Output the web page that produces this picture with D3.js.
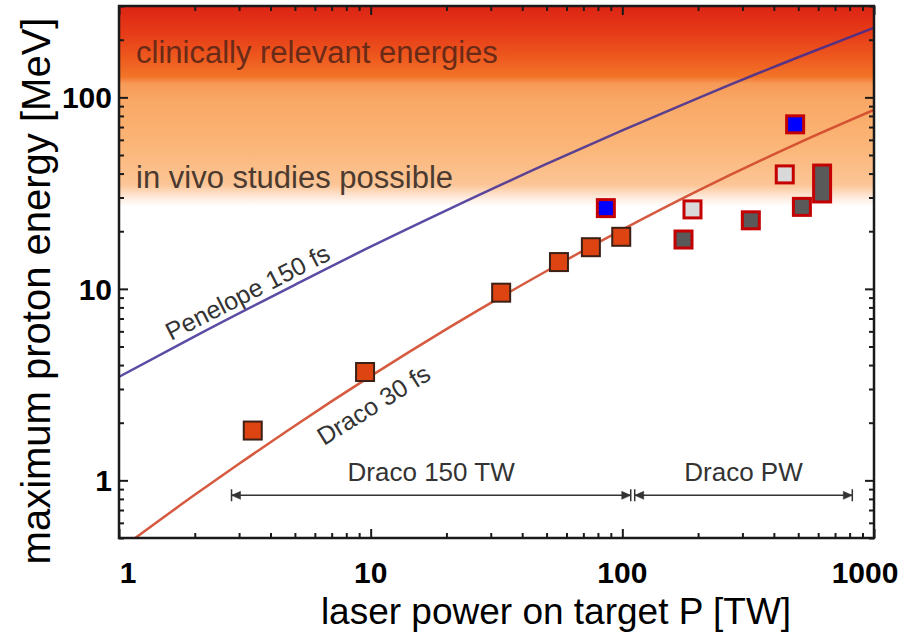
<!DOCTYPE html>
<html>
<head>
<meta charset="utf-8">
<script src="https://cdn.jsdelivr.net/npm/d3@7"></script>
<style>
body { margin: 0; background: #fff; }
text { font-family: "Liberation Sans", Arial, sans-serif; }
</style>
</head>
<body>
<div id="chart"></div>
<script>
// Data (P in TW, E in MeV)
const penelopeP = [1, 2, 5, 10, 20, 50, 100, 200, 500, 1000];
const penelopeE = [3.47, 5.65, 10.5, 16.6, 25.7, 44.9, 67.2, 99.2, 162, 231];
const dracoP = [1, 2, 3, 5, 10, 20, 50, 100, 200, 500, 1000];
const dracoE = [0.433, 0.84, 1.22, 1.93, 3.5, 6.16, 12.4, 20.4, 32.6, 57.7, 86];

const draco150P = [3.4, 9.5, 33, 56, 75, 99];
const draco150E = [1.82, 3.68, 9.55, 13.8, 16.5, 18.7];
const blueP = [86, 486];
const blueE = [26.4, 72.3];
const lightP = [190, 442];
const lightE = [26.0, 39.6];
const darkP = [175, 324, 517, 622];
const darkElo = [18.1, 22.8, 26.8, 31.5];
const darkEhi = [18.1, 22.8, 26.8, 40];

const rangeNames = ["Draco 150 TW", "Draco PW"];
const rangeFrom = [2.8, 112];
const rangeTo = [108, 820];
const rangeE = 0.835;

const bgE = [300, 220, 160, 128, 118, 95, 55, 35, 30, 27];
const bgColor = ["#dc2414", "#e63a18", "#ee5a1e", "#f27428", "#f79a58", "#f9a866", "#fbb678", "#fcc596", "#feeadc", "#ffffff"];

const xMajor = [1, 10, 100, 1000];
const yMajor = [1, 10, 100];

const svg = d3.select("#chart").append("svg")
    .attr("width", 915)
    .attr("height", 639);

const x = d3.scaleLog().domain([1, 1000]).range([119, 874]);
const y = d3.scaleLog().domain([0.5, 300]).range([538, 6]);

const defs = svg.append("defs");
const grad = defs.append("linearGradient")
    .attr("id", "bg")
    .attr("gradientUnits", "userSpaceOnUse")
    .attr("x1", 0).attr("x2", 0)
    .attr("y1", y(300)).attr("y2", y(0.5));
grad.selectAll("stop")
    .data(bgE)
    .join("stop")
    .attr("offset", d => (y(d) - y(300)) / (y(0.5) - y(300)))
    .attr("stop-color", (d, i) => bgColor[i]);

defs.append("clipPath").attr("id", "plot")
    .append("rect")
    .attr("x", 119).attr("y", 6)
    .attr("width", 755).attr("height", 532);

// background band
svg.append("rect")
    .attr("x", 119).attr("y", 6)
    .attr("width", 755).attr("height", 532)
    .attr("fill", "url(#bg)");

svg.append("text")
    .attr("x", 136).attr("y", 63)
    .attr("font-size", 31)
    .attr("fill", "#6a2a18")
    .text("clinically relevant energies");
svg.append("text")
    .attr("x", 136).attr("y", 188)
    .attr("font-size", 31)
    .attr("fill", "#4a3a30")
    .text("in vivo studies possible");

// scaling lines
const line = d3.line()
    .x(d => x(d[0]))
    .y(d => y(d[1]))
    .curve(d3.curveMonotoneX);

const lines = svg.append("g").attr("clip-path", "url(#plot)");
lines.append("path")
    .attr("d", line(penelopeP.map((p, i) => [p, penelopeE[i]])))
    .attr("fill", "none")
    .attr("stroke", "#3e2c94")
    .attr("stroke-opacity", 0.85)
    .attr("stroke-width", 2.5);
lines.append("path")
    .attr("d", line(dracoP.map((p, i) => [p, dracoE[i]])))
    .attr("fill", "none")
    .attr("stroke", "#d0482a")
    .attr("stroke-opacity", 0.9)
    .attr("stroke-width", 2.5);

svg.append("text")
    .attr("transform", "translate(171,341) rotate(-27)")
    .attr("font-size", 25)
    .attr("fill", "#333")
    .text("Penelope 150 fs");
svg.append("text")
    .attr("transform", "translate(324,446) rotate(-32)")
    .attr("font-size", 25)
    .attr("fill", "#333")
    .text("Draco 30 fs");

// ranges of the two lasers
const arrows = svg.append("g").attr("stroke", "#333").attr("fill", "#333");
rangeNames.forEach((name, i) => {
    const x1 = x(rangeFrom[i]), x2 = x(rangeTo[i]), ya = y(rangeE);
    arrows.append("line")
        .attr("x1", x1).attr("x2", x2)
        .attr("y1", ya).attr("y2", ya)
        .attr("stroke-width", 1.5);
    arrows.append("path")
        .attr("d", `M${x1},${ya}L${x1 + 9},${ya - 4}L${x1 + 9},${ya + 4}Z M${x2},${ya}L${x2 - 9},${ya - 4}L${x2 - 9},${ya + 4}Z`)
        .attr("stroke-width", 0.5);
    arrows.append("path")
        .attr("d", `M${x1},${ya - 6}V${ya + 6} M${x2},${ya - 6}V${ya + 6}`)
        .attr("stroke-width", 1.5);
    svg.append("text")
        .attr("x", (x1 + x2) / 2).attr("y", 481)
        .attr("text-anchor", "middle")
        .attr("font-size", 26)
        .attr("fill", "#333")
        .text(name);
});

// data points
svg.selectAll("rect.d150")
    .data(draco150P)
    .join("rect")
    .attr("class", "d150")
    .attr("x", d => x(d) - 9)
    .attr("y", (d, i) => y(draco150E[i]) - 9)
    .attr("width", 18).attr("height", 18)
    .attr("fill", "#dd4412")
    .attr("stroke", "#3d2015")
    .attr("stroke-width", 2);

function redSquares(cls, ps, elo, ehi, fill) {
    svg.selectAll("rect." + cls)
        .data(ps)
        .join("rect")
        .attr("class", cls)
        .attr("x", d => x(d) - 8.5)
        .attr("y", (d, i) => y(ehi[i]) - 8.5)
        .attr("width", 17)
        .attr("height", (d, i) => y(elo[i]) - y(ehi[i]) + 17)
        .attr("fill", fill)
        .attr("stroke", "#c40000")
        .attr("stroke-width", 3);
}
redSquares("blue", blueP, blueE, blueE, "#0000ff");
redSquares("light", lightP, lightE, lightE, "#d9d9d9");
redSquares("dark", darkP, darkElo, darkEhi, "#595959");

// axes with inward ticks
const xMinor = x.ticks().filter(v => !xMajor.includes(v));
const yMinor = y.ticks().filter(v => !yMajor.includes(v));

function ticks(axis, pos, values, size) {
    const g = svg.append("g")
        .attr("transform", pos)
        .call(axis.tickValues(values).tickSize(size).tickFormat(""));
    g.select(".domain").remove();
    g.selectAll("line").attr("stroke", "#1a1a1a").attr("stroke-width", 2);
}
ticks(d3.axisBottom(x), "translate(0,538)", xMinor, -5);
ticks(d3.axisBottom(x), "translate(0,538)", xMajor, -9);
ticks(d3.axisTop(x), "translate(0,6)", xMinor, -5);
ticks(d3.axisTop(x), "translate(0,6)", xMajor, -9);
ticks(d3.axisLeft(y), "translate(119,0)", yMinor, -5);
ticks(d3.axisLeft(y), "translate(119,0)", yMajor, -9);
ticks(d3.axisRight(y), "translate(874,0)", yMinor, -5);
ticks(d3.axisRight(y), "translate(874,0)", yMajor, -9);

svg.append("rect")
    .attr("x", 119).attr("y", 6)
    .attr("width", 755).attr("height", 532)
    .attr("fill", "none")
    .attr("stroke", "#1a1a1a")
    .attr("stroke-width", 2.5);

// tick labels
const xShift = [9, 0, 0, -9];
svg.selectAll("text.xl")
    .data(xMajor)
    .join("text")
    .attr("class", "xl")
    .attr("x", (d, i) => x(d) + xShift[i])
    .attr("y", 583)
    .attr("text-anchor", "middle")
    .attr("font-size", 30)
    .attr("font-weight", "bold")
    .text(d => d);
svg.selectAll("text.yl")
    .data(yMajor)
    .join("text")
    .attr("class", "yl")
    .attr("x", 112)
    .attr("y", d => y(d))
    .attr("dy", "0.36em")
    .attr("text-anchor", "end")
    .attr("font-size", 30)
    .attr("font-weight", "bold")
    .text(d => d);

// axis titles
svg.append("text")
    .attr("x", 556).attr("y", 624)
    .attr("text-anchor", "middle")
    .attr("font-size", 37)
    .text("laser power on target P [TW]");
svg.append("text")
    .attr("transform", "translate(50,291) rotate(-90)")
    .attr("text-anchor", "middle")
    .attr("font-size", 40)
    .text("maximum proton energy [MeV]");
</script>
</body>
</html>
